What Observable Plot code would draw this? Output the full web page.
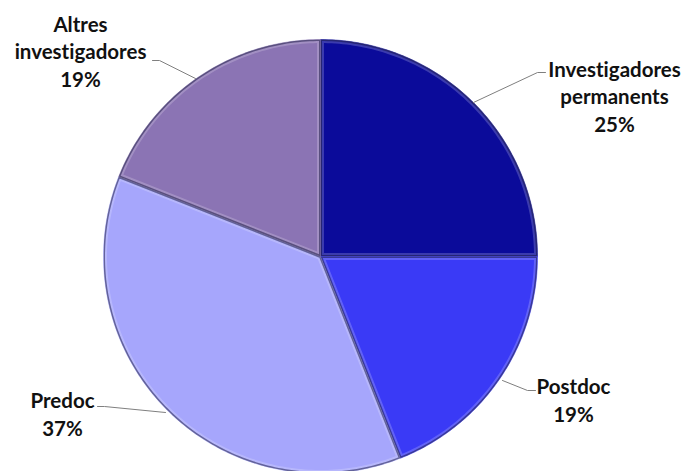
<!DOCTYPE html>
<html><head><meta charset="utf-8">
<script src="https://cdn.jsdelivr.net/npm/d3@7"></script>
<script src="https://cdn.jsdelivr.net/npm/@observablehq/plot@0.6"></script>
<style>body{margin:0;background:#fff;} svg{overflow:hidden} svg text{font-variant-ligatures:none;font-feature-settings:"liga" 0;}</style>
</head><body><div id="chart"></div>
<script>
// ---- data ----
const categories = ["Investigadores permanents", "Postdoc", "Predoc", "Altres investigadores"];
const labelLines = ["Investigadores\npermanents", "Postdoc", "Predoc", "Altres\ninvestigadores"];
const values = [25, 19, 37, 19];
const colors = ["#0b0b9a", "#3a3af6", "#a6a6fc", "#8b74b4"];

// ---- layout (pixels) ----
const W = 688, H = 471, CX = 320, CY = 256, R = 217;
const labelPos = [[614, 95], [573, 399], [62, 413], [80, 50]];
const leaderPts = [
  [[545, 72], [537, 72], [473, 102]],
  [[535, 390], [527, 390], [502, 380]],
  [[97, 406], [104, 406], [165, 412]],
  [[152, 60], [159, 60], [195, 78]]
];
const px = (x) => (x - CX) / R;
const py = (y) => (CY - y) / R;

// ---- slices ----
const total = d3.sum(values);
let acc = 0;
const slicePts = [];
values.forEach((v, i) => {
  const a0 = acc / total * 2 * Math.PI;
  acc += v;
  const a1 = acc / total * 2 * Math.PI;
  const n = Math.max(2, Math.ceil((a1 - a0) / (Math.PI / 180)));
  slicePts.push({category: categories[i], x: 0, y: 0});
  for (let k = 0; k <= n; k++) {
    const a = a0 + (a1 - a0) * k / n;
    slicePts.push({category: categories[i], x: Math.sin(a), y: Math.cos(a)});
  }
  slicePts.push({category: categories[i], x: 0, y: 0});
});

const labels = categories.map((c, i) => ({
  text: labelLines[i] + "\n" + Math.round(values[i] / total * 100) + "%",
  x: px(labelPos[i][0]), y: py(labelPos[i][1])
}));
const leaders = leaderPts.flatMap((pts, i) => pts.map(([x, y]) => ({id: i, x: px(x), y: py(y)})));

const chart = Plot.plot({
  width: W, height: H, margin: 0,
  x: {domain: [-1, 1], range: [CX - R, CX + R], axis: null},
  y: {domain: [-1, 1], range: [CY + R, CY - R], axis: null},
  color: {domain: categories, range: colors},
  marks: [
    Plot.line(slicePts, {x: "x", y: "y", z: "category", fill: "category", stroke: "category", strokeWidth: 0.5, curve: "linear"}),
    Plot.line(leaders, {x: "x", y: "y", z: "id", stroke: "#7f7f7f", strokeWidth: 1}),
    Plot.text(labels, {x: "x", y: "y", text: "text", fontSize: 20.5, fontWeight: "bold", fontFamily: "Lato", lineHeight: 1.36, fill: "#111", textAnchor: "middle"})
  ]
});

// bevel effect: inner highlight + dark rim clipped to each slice
const svg = d3.select(chart);
const defs = svg.insert("defs", ":first-child");
const sliceG = d3.select(svg.selectAll('g[aria-label="line"]').nodes()[0]);
sliceG.selectAll("path").each(function(_, i) {
  const d = d3.select(this).attr("d");
  const id = "clip-slice-" + i;
  defs.append("clipPath").attr("id", id).append("path").attr("d", d);
  const g = sliceG.append("g").attr("clip-path", `url(#${id})`).attr("fill", "none");
  g.append("path").attr("d", d).attr("stroke", "#ffffff").attr("stroke-opacity", 0.2).attr("stroke-width", 7).attr("stroke-linejoin", "round");
  g.append("path").attr("d", d).attr("stroke", "#10103a").attr("stroke-opacity", 0.5).attr("stroke-width", 3).attr("stroke-linejoin", "round");
});
document.getElementById("chart").append(chart);
</script>
</body></html>
